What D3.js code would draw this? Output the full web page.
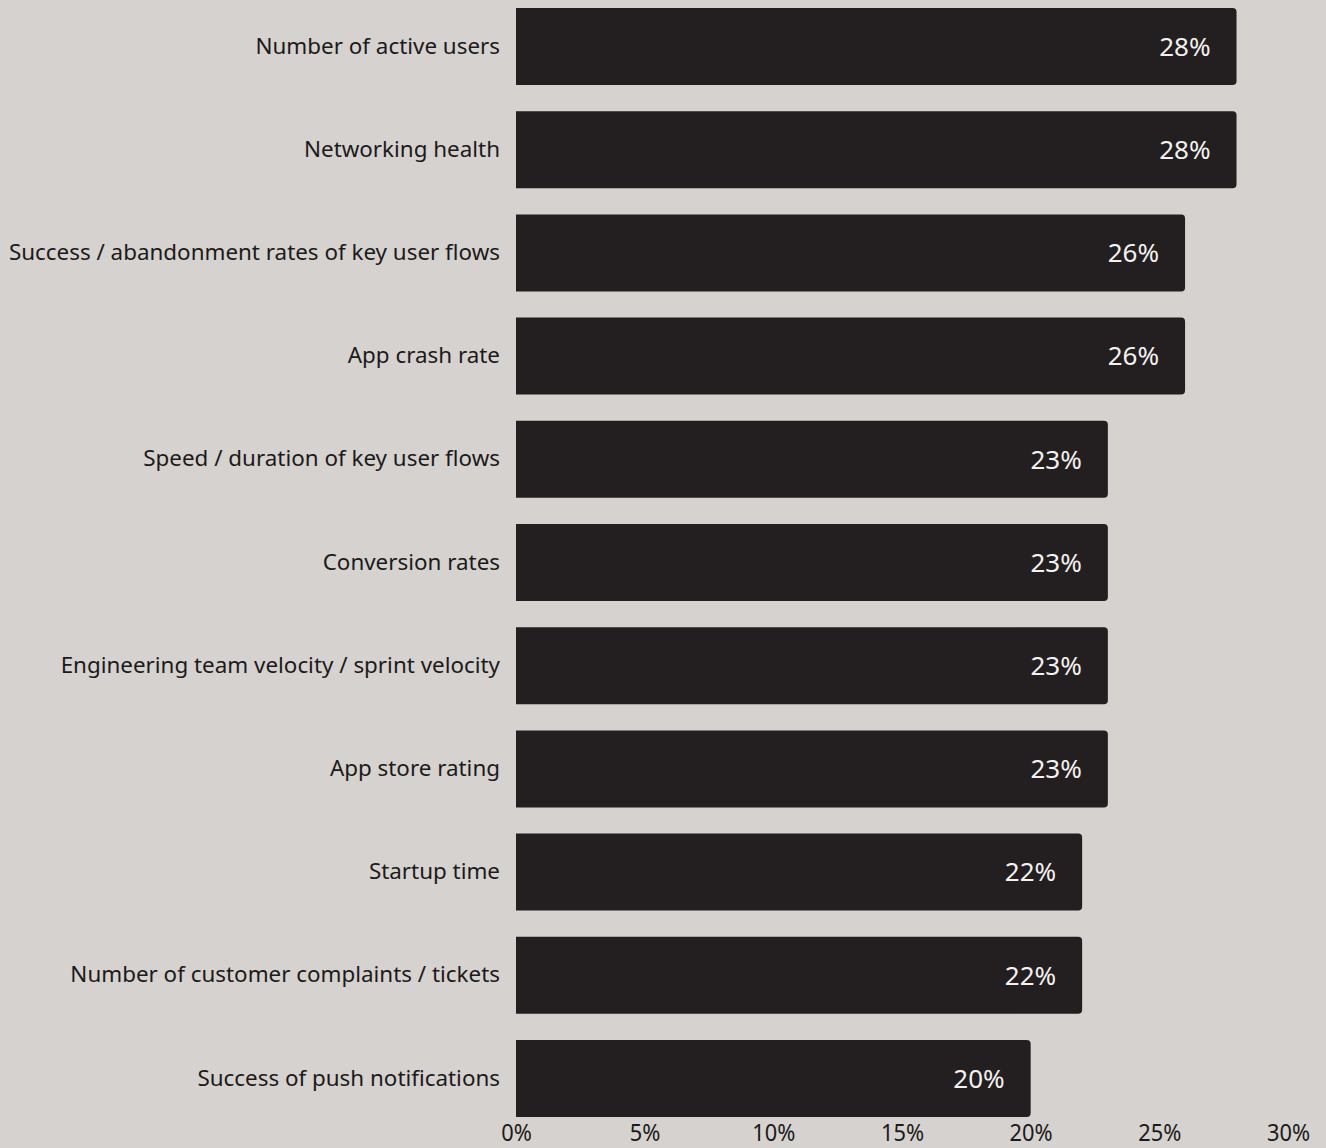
<!DOCTYPE html>
<html>
<head>
<meta charset="utf-8">
<script src="https://cdn.jsdelivr.net/npm/d3@7"></script>
<style>
  html, body { margin: 0; padding: 0; background: #d6d2cf; }
  svg { display: block; }
</style>
</head>
<body>
<svg id="chart" width="1326" height="1148"></svg>
<script>
// Share of respondents tracking each mobile app metric
const categories = [
  "Number of active users",
  "Networking health",
  "Success / abandonment rates of key user flows",
  "App crash rate",
  "Speed / duration of key user flows",
  "Conversion rates",
  "Engineering team velocity / sprint velocity",
  "App store rating",
  "Startup time",
  "Number of customer complaints / tickets",
  "Success of push notifications"
];
const values = [28, 28, 26, 26, 23, 23, 23, 23, 22, 22, 20];
const tickValues = [0, 5, 10, 15, 20, 25, 30];

const W = 1326, H = 1148;
const margin = { left: 516, right: 38, top: 8, bottom: 31 };

const svg = d3.select("#chart");
const fontFamily = "'Noto Sans', 'Open Sans', sans-serif";

const x = d3.scaleLinear()
  .domain([0, 30])
  .range([margin.left, W - margin.right]);

const y = d3.scaleBand()
  .domain(categories)
  .range([margin.top, H - margin.bottom])
  .paddingInner(0.254)
  .paddingOuter(0);

// Bars with rounded right-hand corners only
const r = 4;
function barPath(v, cat) {
  const x0 = x(0), x1 = x(v), y0 = y(cat), h = y.bandwidth();
  return `M${x0},${y0}H${x1 - r}Q${x1},${y0} ${x1},${y0 + r}` +
         `V${y0 + h - r}Q${x1},${y0 + h} ${x1 - r},${y0 + h}H${x0}Z`;
}

const data = categories.map((c, i) => ({ cat: c, value: values[i] }));

svg.append("g")
  .selectAll("path")
  .data(data)
  .join("path")
  .attr("d", d => barPath(d.value, d.cat))
  .attr("fill", "#231f20");

// Value labels inside the bar ends
svg.append("g")
  .selectAll("text")
  .data(data)
  .join("text")
  .attr("x", d => x(d.value) - 26)
  .attr("y", d => y(d.cat) + y.bandwidth() / 2)
  .attr("dy", "0.36em")
  .attr("text-anchor", "end")
  .attr("fill", "#f4f2f0")
  .style("font-family", fontFamily)
  .style("font-size", "26px")
  .text(d => d.value + "%");

// Category labels on the left
const yAxis = d3.axisLeft(y).tickSize(0).tickPadding(16);
const gy = svg.append("g")
  .attr("transform", `translate(${margin.left},0)`)
  .call(yAxis);
gy.select(".domain").remove();
gy.selectAll("text")
  .attr("fill", "#1c1a1a")
  .style("font-family", fontFamily)
  .style("font-size", "22.4px");

// Percentage axis along the bottom (slightly condensed labels)
const xAxis = d3.axisBottom(x)
  .tickValues(tickValues)
  .tickFormat(d => d + "%")
  .tickSize(0)
  .tickPadding(0);
const gx = svg.append("g")
  .attr("transform", `translate(0,${H - 7})`)
  .call(xAxis);
gx.select(".domain").remove();
gx.selectAll(".tick text")
  .attr("y", 0)
  .attr("dy", 0)
  .attr("fill", "#1c1a1a")
  .style("font-family", fontFamily)
  .style("font-size", "23px")
  .attr("transform", "scale(0.95,1)");
</script>
</body>
</html>
